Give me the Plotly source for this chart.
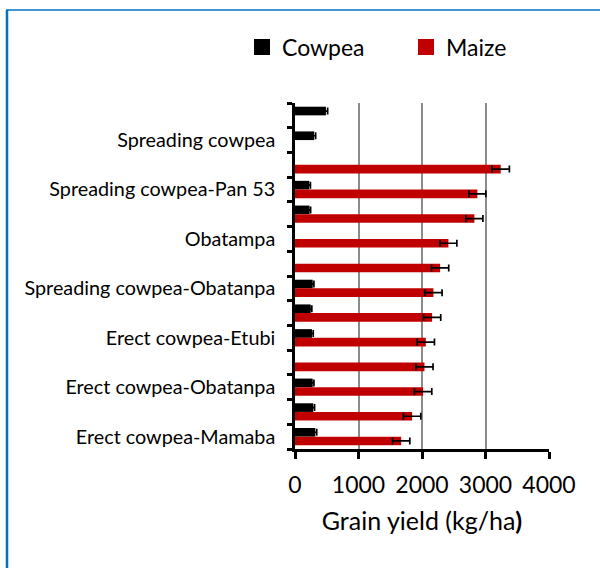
import plotly.graph_objects as go

# categories listed top to bottom
categories = [
    "Erect cowpea", "Spreading cowpea", "Pan 53", "Spreading cowpea-Pan 53",
    "Spreading cowpea-Mamaba", "Obatampa", "Mamaba", "Spreading cowpea-Obatanpa",
    "Spreading cowpea-Etubi", "Erect cowpea-Etubi", "Etubi", "Erect cowpea-Obatanpa",
    "Erect cowpea-Pan 53", "Erect cowpea-Mamaba",
]
shown_labels = [
    "", "Spreading cowpea", "", "Spreading cowpea-Pan 53",
    "", "Obatampa", "", "Spreading cowpea-Obatanpa",
    "", "Erect cowpea-Etubi", "", "Erect cowpea-Obatanpa",
    "", "Erect cowpea-Mamaba",
]
cowpea = [487, 303, None, 225, 228, None, None, 278, 247, 267, None, 278, 288, 320]
cowpea_err = [27, 22, None, 18, 18, None, None, 20, 18, 20, None, 20, 20, 22]
maize = [None, None, 3240, 2872, 2825, 2416, 2285, 2180, 2159, 2060, 2039, 2017, 1845, 1672]
maize_err = [None, None, 136, 133, 134, 133, 136, 136, 136, 136, 135, 137, 136, 136]
x_ticks = [0, 1000, 2000, 3000, 4000]
series_names = ["Cowpea", "Maize"]
series_colors = ["#000000", "#C00000"]

FONT = "Lato"
W, H = 600, 568
L, R, T, B = 295, 51, 103, 119

fig = go.Figure()
for name, vals, errs, col in [(series_names[0], cowpea, cowpea_err, series_colors[0]),
                              (series_names[1], maize, maize_err, series_colors[1])]:
    fig.add_trace(go.Bar(
        name=name, y=categories, x=vals, orientation="h", showlegend=False,
        marker=dict(color=col, line=dict(width=0)),
        error_x=dict(type="data", array=errs, color="#000000", thickness=1.7, width=3.5),
    ))
# legend entries with larger square swatches
for name, col in zip(series_names, series_colors):
    fig.add_trace(go.Scatter(
        name=name, x=[None], y=[None], mode="markers",
        marker=dict(symbol="square", size=16, color=col), showlegend=True,
    ))

pw = W - L - R
ph = H - T - B
def px_x(p):
    return (p - L) / pw
def px_y(p):
    return (H - B - p) / ph

fig.update_layout(
    width=W, height=H,
    margin=dict(l=L, r=R, t=T, b=B, pad=0),
    paper_bgcolor="white", plot_bgcolor="white",
    barmode="group", bargap=0.3, bargroupgap=0.0,
    font=dict(family=FONT, color="black"),
    legend=dict(orientation="h", x=px_x(242), y=px_y(47), xanchor="left", yanchor="middle",
                font=dict(size=23, family=FONT), entrywidth=119, itemsizing="trace",
                itemwidth=30, bgcolor="rgba(0,0,0,0)"),
    xaxis=dict(range=[0, 4000], tickvals=x_ticks, ticktext=[str(v) for v in x_ticks],
               showgrid=True, gridcolor="#8C8C8C", gridwidth=1.5, zeroline=False,
               showline=True, linecolor="black", linewidth=2.5,
               ticks="outside", ticklen=7, tickwidth=2.5, tickcolor="black",
               tickfont=dict(size=23, family=FONT), ticklabelstandoff=7,
               title=dict(text="Grain yield (kg/ha<b>)</b>", font=dict(size=25, family=FONT), standoff=16)),
    yaxis=dict(type="category", categoryorder="array", categoryarray=categories,
               autorange="reversed", tickvals=categories, ticktext=shown_labels,
               tickson="boundaries", ticks="outside", ticklen=5, tickwidth=2.5, tickcolor="black",
               showline=True, linecolor="black", linewidth=2.5, showgrid=False,
               tickfont=dict(size=19.8, family=FONT), ticklabelstandoff=13),
    shapes=[
        dict(type="line", xref="paper", yref="paper", x0=px_x(6), x1=px_x(600), y0=px_y(10), y1=px_y(10),
             line=dict(color="#0070C0", width=1.5)),
        dict(type="line", xref="paper", yref="paper", x0=px_x(7), x1=px_x(7), y0=px_y(10), y1=px_y(568),
             line=dict(color="#0070C0", width=2.5)),
    ],
)

fig.write_html("out.html", config={"displayModeBar": False},
               post_script="document.body.style.margin='0px';")
